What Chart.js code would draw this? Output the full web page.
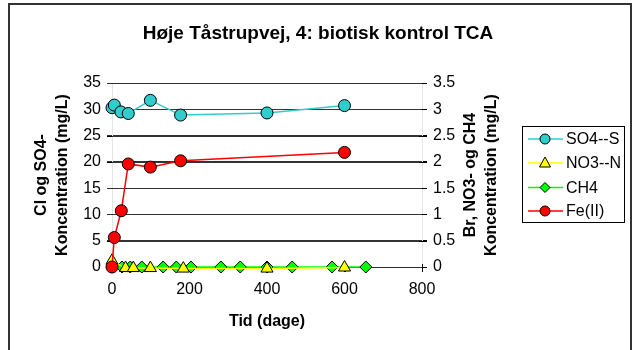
<!DOCTYPE html>
<html>
<head>
<meta charset="utf-8">
<script src="https://cdn.jsdelivr.net/npm/chart.js@4.4.1/dist/chart.umd.min.js"></script>
<style>
html, body { margin: 0; padding: 0; background: #fff; overflow: hidden; }
#ramme { position: absolute; left: 8px; top: 3px; width: 624px; height: 400px; border: 2px solid #333; box-sizing: border-box; }
.lag { position: absolute; left: 0; top: 0; }
#wrap { position: absolute; left: 0; top: 0; width: 639px; height: 350px; }
#tekst { pointer-events: none; }
</style>
</head>
<body>
<div id="ramme"></div>
<canvas id="bund" class="lag" width="639" height="350"></canvas>
<div id="wrap"><canvas id="graf" width="639" height="350"></canvas></div>
<canvas id="tekst" class="lag" width="639" height="350"></canvas>
<script>
// Data (tid i dage)
const tidSO4 = [0, 6, 23, 42, 99, 177, 400, 600];
const so4 = [30.3, 30.8, 29.5, 29.2, 31.7, 28.9, 29.3, 30.7];

const tidNO3 = [0, 35, 55, 99, 184, 400, 600];
const no3 = [0.12, -0.02, -0.02, -0.02, -0.03, -0.03, -0.01];

const tidCH4 = [0, 26, 47, 77, 132, 166, 204, 281, 331, 400, 465, 568, 655];
const ch4 = [0, 0, 0, 0, 0, 0, 0, 0, 0, 0, 0, 0, 0];

const tidFe = [0, 6, 24, 42, 99, 177, 600];
const fe = [0, 0.56, 1.07, 1.96, 1.90, 2.02, 2.18];

const xTicks = [0, 200, 400, 600, 800];
const yTicks = [0, 5, 10, 15, 20, 25, 30, 35];
const y1Ticks = [0, 0.5, 1, 1.5, 2, 2.5, 3, 3.5];
const serieNavne = ['SO4--S', 'NO3--N', 'CH4', 'Fe(II)'];

const FONT = '"Liberation Sans", Arial, sans-serif';

function punkter(xs, ys) {
    return xs.map((x, i) => ({ x: x, y: ys[i] }));
}

// Signaturer (farve, markør) til graf og forklaring
const stil = [
    { farve: '#33CCCC', form: 'circle', r: 6 },
    { farve: '#FFFF00', form: 'triangle', r: 7 },
    { farve: '#00FF00', form: 'rectRot', r: 6 },
    { farve: '#FF0000', form: 'circle', r: 6 }
];

function serie(i, data, akse, order) {
    return {
        label: serieNavne[i],
        data: data,
        yAxisID: akse,
        order: order,
        borderColor: stil[i].farve,
        borderWidth: 1.5,
        pointStyle: stil[i].form,
        pointRadius: stil[i].r,
        pointBackgroundColor: stil[i].farve,
        pointBorderColor: '#000',
        pointBorderWidth: 1,
        clip: false
    };
}

const chart = new Chart(document.getElementById('graf').getContext('2d'), {
    type: 'line',
    data: {
        datasets: [
            serie(0, punkter(tidSO4, so4), 'y', 3),
            serie(1, punkter(tidNO3, no3), 'y1', 1),
            serie(2, punkter(tidCH4, ch4), 'y1', 2),
            serie(3, punkter(tidFe, fe), 'y1', 0)
        ]
    },
    options: {
        responsive: false,
        animation: false,
        layout: { padding: { top: 83 } },
        plugins: { legend: { display: false } },
        scales: {
            x: {
                type: 'linear',
                min: 0,
                max: 800,
                afterFit: s => { s.height = 83; },
                ticks: { stepSize: 200, font: { family: FONT, size: 16 }, color: '#000', padding: 8, maxRotation: 0 },
                grid: { color: '#000', drawOnChartArea: false, tickLength: 5 }
            },
            y: {
                min: 0,
                max: 35,
                afterFit: s => { s.width = 112; },
                ticks: { stepSize: 5, font: { family: FONT, size: 16 }, color: '#000', padding: 6 },
                grid: { color: '#333', tickLength: 5 }
            },
            y1: {
                position: 'right',
                min: 0,
                max: 3.5,
                afterFit: s => { s.width = 217; },
                ticks: {
                    stepSize: 0.5,
                    font: { family: FONT, size: 16 },
                    color: '#000',
                    padding: 6,
                    format: { minimumFractionDigits: 0 }
                },
                grid: { color: '#000', drawOnChartArea: false, tickLength: 5 }
            }
        }
    }
});

// Gitterlinjer og tick-streger på et lag under grafen
function tegnGitter(ch) {
    const c = document.getElementById('bund').getContext('2d');
    const a = ch.chartArea;
    const sy = ch.scales.y, sy1 = ch.scales.y1, sx = ch.scales.x;
    const streg = (x1, y1, x2, y2, farve) => {
        c.strokeStyle = farve;
        c.beginPath();
        c.moveTo(x1, y1);
        c.lineTo(x2, y2);
        c.stroke();
    };
    c.lineWidth = 1;
    yTicks.forEach(v => {
        const y = Math.round(sy.getPixelForValue(v)) + 0.5;
        streg(a.left, y, a.right, y, '#333');
        streg(a.left - 5, y, a.left, y, '#000');
    });
    y1Ticks.forEach(v => {
        const y = Math.round(sy1.getPixelForValue(v)) + 0.5;
        streg(a.right - 3, y, a.right + 5, y, '#000');
    });
    xTicks.forEach(v => {
        const x = Math.round(sx.getPixelForValue(v)) + 0.5;
        streg(x, a.bottom - 3, x, a.bottom + 5, '#000');
    });
}

// Titler, aksetitler og forklaring på et lag over grafen
function tegnTekst() {
    const ctx = document.getElementById('tekst').getContext('2d');
    ctx.fillStyle = '#000';
    ctx.textAlign = 'center';
    ctx.textBaseline = 'middle';

    ctx.font = 'bold 19px ' + FONT;
    ctx.fillText('Høje Tåstrupvej, 4: biotisk kontrol TCA', 318, 34);

    ctx.font = 'bold 16px ' + FONT;
    ctx.fillText('Tid (dage)', 267, 322);

    const lodret = [
        ['Cl og SO4-', 42], ['Koncentration (mg/L)', 63],
        ['Br, NO3- og CH4', 471], ['Koncentration (mg/L)', 492]
    ];
    lodret.forEach(([t, x]) => {
        ctx.save();
        ctx.translate(x, 175);
        ctx.rotate(-Math.PI / 2);
        ctx.fillText(t, 0, 0);
        ctx.restore();
    });

    // Forklaring
    ctx.lineWidth = 1;
    ctx.strokeStyle = '#000';
    ctx.strokeRect(522.5, 126.5, 102, 96);
    ctx.font = '16px ' + FONT;
    ctx.textAlign = 'left';
    const ys = [139, 163, 187.5, 211];
    serieNavne.forEach((navn, i) => {
        const y = ys[i];
        ctx.strokeStyle = stil[i].farve;
        ctx.lineWidth = 1.5;
        ctx.beginPath();
        ctx.moveTo(528, y);
        ctx.lineTo(563, y);
        ctx.stroke();

        ctx.fillStyle = stil[i].farve;
        ctx.strokeStyle = '#000';
        ctx.lineWidth = 1;
        ctx.beginPath();
        const cx = 545;
        if (stil[i].form === 'circle') {
            ctx.arc(cx, y, 5, 0, Math.PI * 2);
        } else if (stil[i].form === 'triangle') {
            ctx.moveTo(cx, y - 6);
            ctx.lineTo(cx + 5.5, y + 4);
            ctx.lineTo(cx - 5.5, y + 4);
            ctx.closePath();
        } else {
            ctx.moveTo(cx - 5, y);
            ctx.lineTo(cx, y - 5);
            ctx.lineTo(cx + 5, y);
            ctx.lineTo(cx, y + 5);
            ctx.closePath();
        }
        ctx.fill();
        ctx.stroke();

        ctx.fillStyle = '#000';
        ctx.fillText(navn, 566, y + 1);
    });
}

tegnGitter(chart);
tegnTekst();
</script>
</body>
</html>
